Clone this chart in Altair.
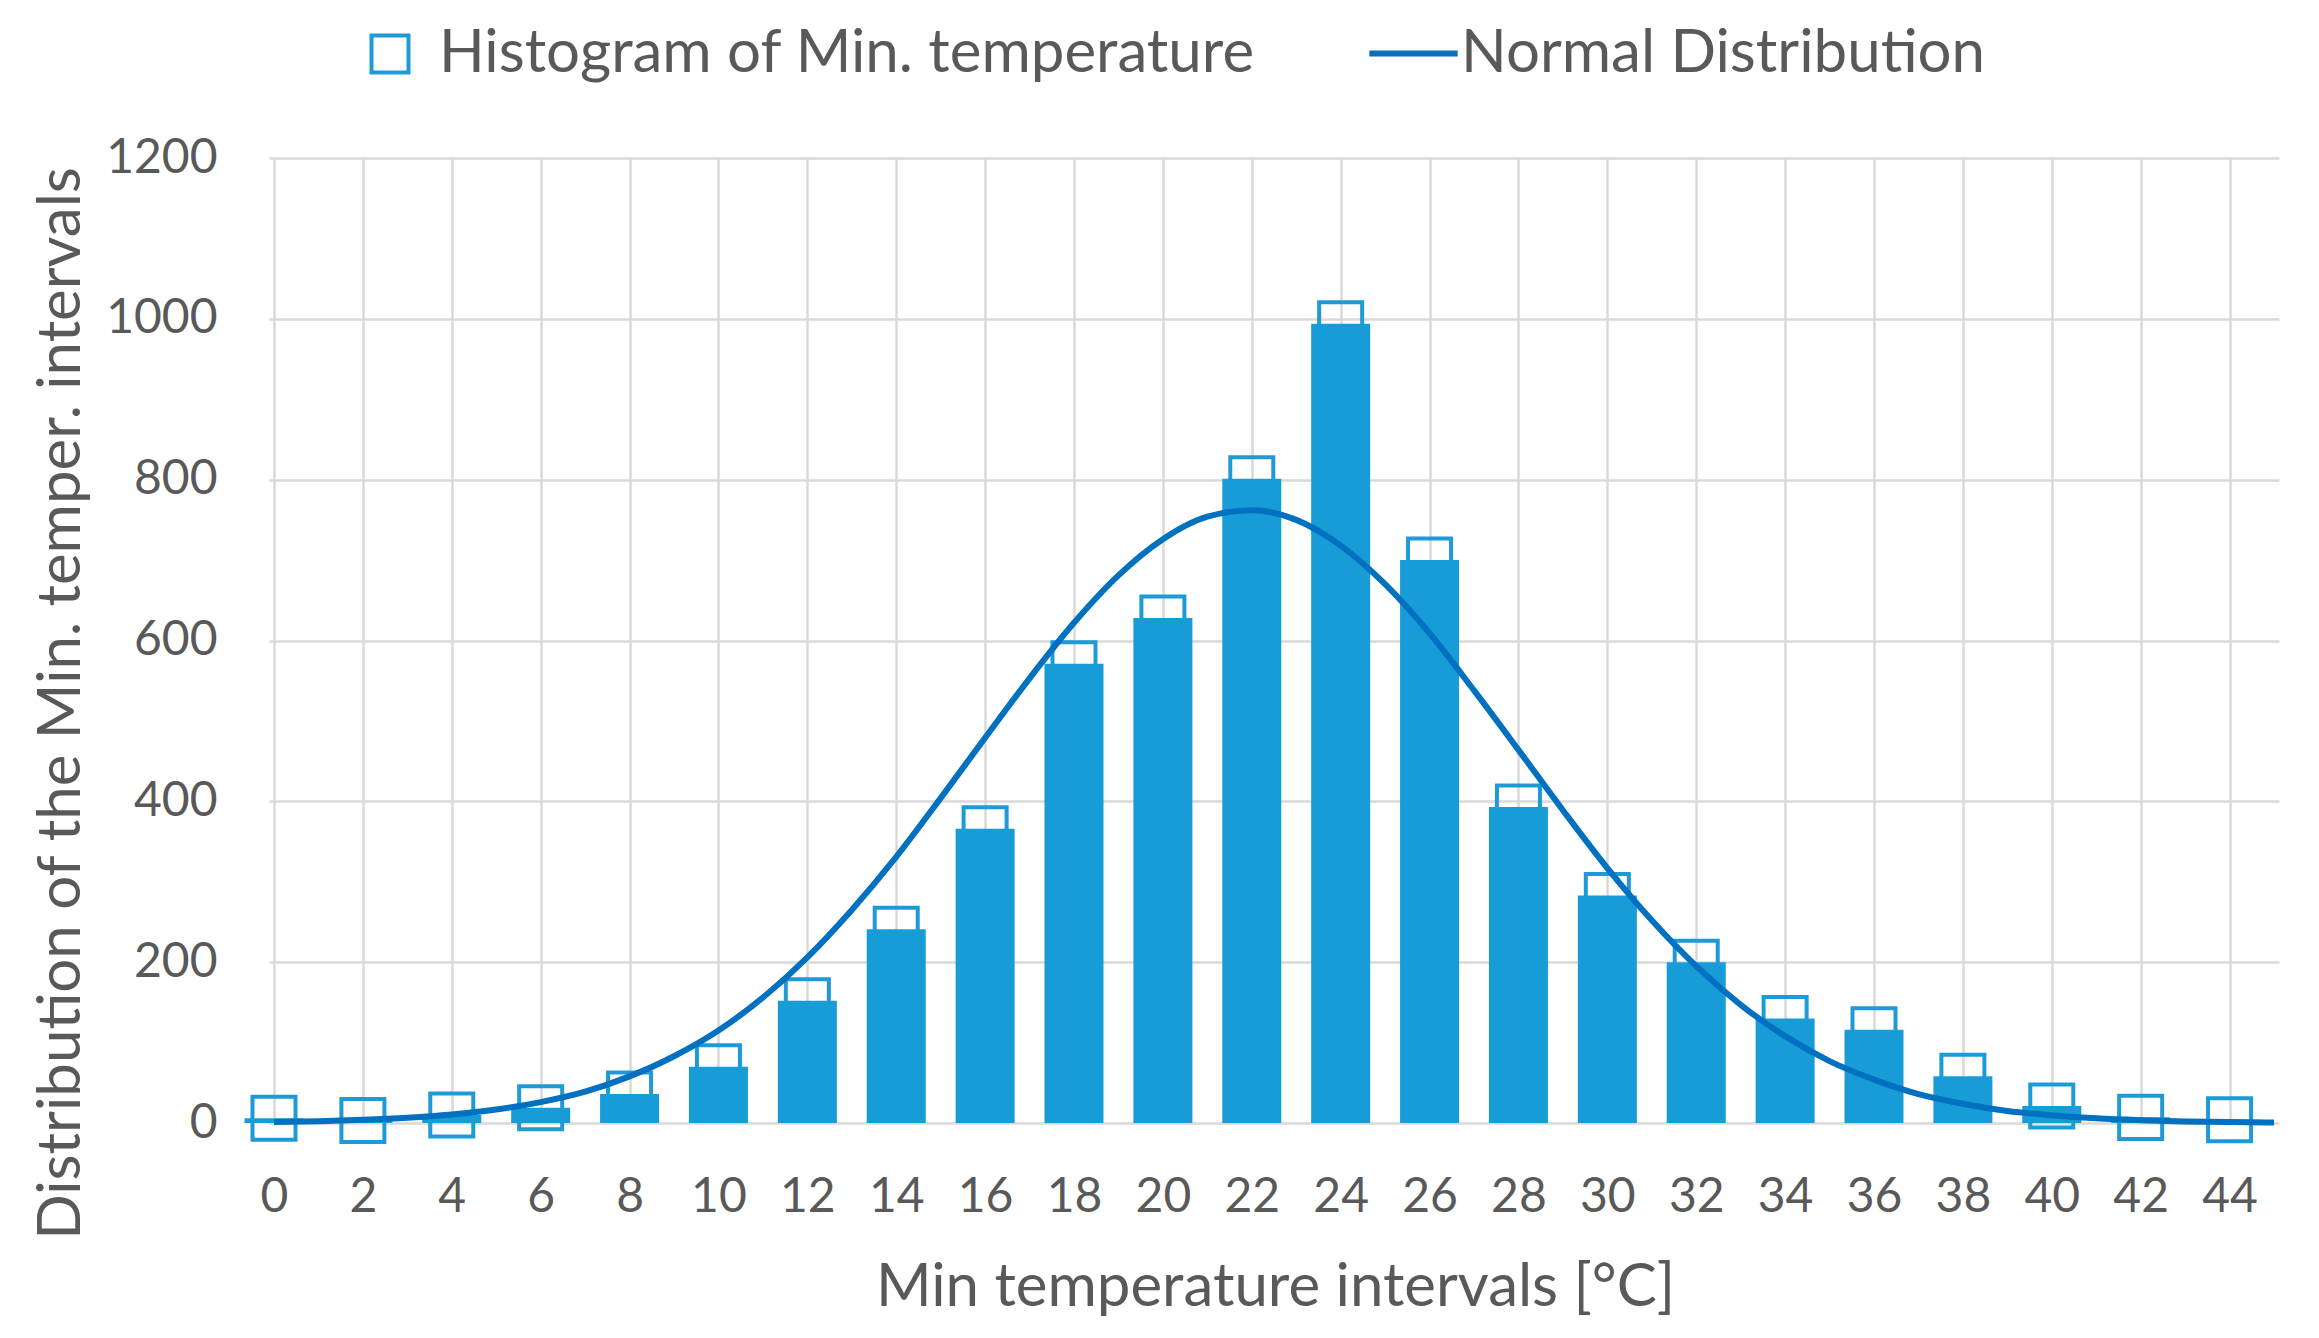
import altair as alt
import pandas as pd

# ---- data ----
bins = [0, 2, 4, 6, 8, 10, 12, 14, 16, 18, 20, 22, 24, 26, 28, 30, 32, 34, 36, 38, 40, 42, 44]
counts = [6, 3, 10, 19, 36, 70, 152, 241, 366, 571, 628, 801, 994, 700, 393, 283, 200, 130, 116, 58, 21, 7, 4]

curve_x = list(range(0, 46))
curve_y = [1.3, 2.2, 3.9, 6.5, 10.6, 16.8, 26, 39, 58, 83,
           115, 156, 206, 265, 331, 404, 479, 553, 622, 681,
           726, 754, 762, 750, 718, 670, 609, 538, 464, 389,
           317, 252, 195, 147, 108, 77, 54, 36, 24, 15,
           9.6, 5.8, 3.5, 2, 1.1, 0.6]

y_ticks = [0, 200, 400, 600, 800, 1000, 1200]

hist_name = "Histogram of Min. temperature"
norm_name = "Normal Distribution"
x_title = "Min temperature intervals [°C]"
y_title = "Distribution of the Min. temper. intervals"

hist = pd.DataFrame({"t": bins, "n": counts, "s": hist_name})
norm = pd.DataFrame({"t": curve_x, "n": curve_y, "s": norm_name})

TEXT = "#595959"
FONT = "Lato"

x_enc = alt.X(
    "t:Q",
    scale=alt.Scale(domain=[0, 45], nice=False, zero=False),
    axis=alt.Axis(values=bins, title=x_title, titleX=1006, titleY=182,
                  titleBaseline="alphabetic", titleAlign="center",
                  labelPadding=50, format="d"),
)
y_enc = alt.Y(
    "n:Q",
    scale=alt.Scale(domain=[0, 1200], nice=False),
    axis=alt.Axis(values=y_ticks, title=y_title, titleX=-190, titleY=545,
                  titleAngle=270, titleBaseline="alphabetic", titleAlign="center",
                  labelPadding=52, format="d"),
)

squares = alt.Chart(hist).mark_point(
    shape="square", filled=False, size=1850, strokeWidth=4, opacity=1
).encode(
    x=x_enc,
    y=y_enc,
    color=alt.Color(
        "s:N",
        scale=alt.Scale(domain=[hist_name], range=["#1E9BD7"]),
        legend=alt.Legend(orient="none", legendX=91, legendY=-134, title=None,
                          symbolType="square", symbolSize=1370, symbolStrokeWidth=4,
                          labelOffset=19, labelFontSize=60),
    ),
)

bars = alt.Chart(hist).mark_bar(color="#189CD8", size=59).encode(x=x_enc, y=y_enc)

line = alt.Chart(norm).mark_line(strokeWidth=6, interpolate="monotone").encode(
    x=x_enc,
    y=y_enc,
    stroke=alt.Stroke(
        "s:N",
        scale=alt.Scale(domain=[norm_name], range=["#0070C0"]),
        legend=alt.Legend(orient="none", legendX=1097, legendY=-152, title=None,
                          symbolType="stroke", symbolSize=7800, symbolStrokeWidth=6,
                          labelOffset=0, labelFontSize=60),
    ),
)

chart = alt.layer(squares, bars, line).properties(
    width=2010,
    height=965,
    padding={"left": 261, "top": 150, "right": 30, "bottom": 200},
    autosize=alt.AutoSizeParams(type="none"),
    background="white",
).configure_view(stroke=None).configure_axis(
    labelFont=FONT, labelFontSize=48, labelColor=TEXT,
    titleFont=FONT, titleFontSize=60, titleColor=TEXT, titleFontWeight="normal",
    gridColor="#D9D9D9", gridWidth=2.5, domain=False, ticks=False,
).configure_legend(
    labelFont=FONT, labelColor=TEXT, labelLimit=0,
)

chart.save("out.html", embed_options={"renderer": "svg", "actions": False})
